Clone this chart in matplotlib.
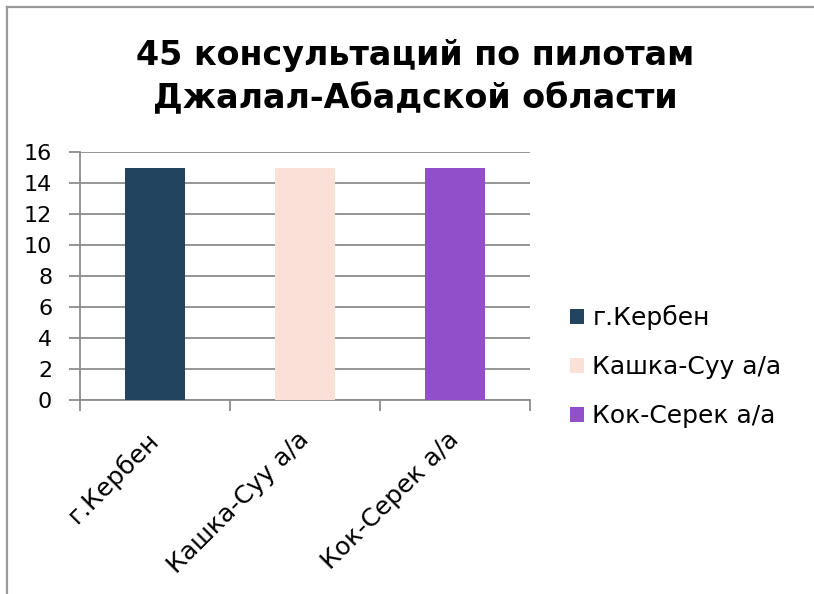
import matplotlib
matplotlib.use("Agg")
import matplotlib.pyplot as plt
from matplotlib.lines import Line2D
from matplotlib.patches import Patch

categories = ["г.Кербен", "Кашка-Суу а/а", "Кок-Серек а/а"]
values = [15, 15, 15]
colors = ["#23445F", "#FBE0D7", "#914FC8"]
yticks = [0, 2, 4, 6, 8, 10, 12, 14, 16]
title = "45 консультаций по пилотам\nДжалал-Абадской области"

plt.rcParams['font.family'] = ['DejaVu Sans']

fig = plt.figure(figsize=(8.14, 5.94), dpi=100)
fig.patch.set_facecolor("white")

# frame border (top and left)
fig.add_artist(Line2D([7/814, 1.0], [1-7/594, 1-7/594], transform=fig.transFigure,
                      color="#9a9a9a", lw=1.6))
fig.add_artist(Line2D([7/814, 7/814], [0, 1-7/594], transform=fig.transFigure,
                      color="#9a9a9a", lw=1.6))

ax = fig.add_axes([80/814, 1-400/594, 450/814, 248/594])
x = list(range(len(categories)))
ax.bar(x, values, width=0.4, color=colors, zorder=3)
ax.set_xlim(-0.5, len(categories) - 0.5)
ax.set_ylim(0, 16)
ax.set_yticks(yticks)
ax.set_yticklabels([str(v) for v in yticks], fontsize=16)
ax.yaxis.grid(True, color="#8c8c8c", lw=1.3, zorder=0)
ax.tick_params(axis="y", length=8, color="#8c8c8c", width=1.3, pad=12)

ax.set_xticks([i - 0.5 for i in range(len(categories) + 1)])
ax.set_xticklabels([])
ax.tick_params(axis="x", length=8, color="#8c8c8c", width=1.3)
ax.set_xticks(x, minor=True)
ax.set_xticklabels(categories, minor=True, rotation=45, ha="right", va="center",
                   rotation_mode="anchor", fontsize=18)
ax.tick_params(axis="x", which="minor", length=0, pad=26)

for s in ["top", "right"]:
    ax.spines[s].set_visible(False)
for s in ["left", "bottom"]:
    ax.spines[s].set_color("#8c8c8c")
    ax.spines[s].set_linewidth(1.3)

fig.text(415/814, 1-77/594, title, ha="center", va="center", fontsize=24,
         fontweight="bold", linespacing=1.38)

handles = [Patch(facecolor=c, edgecolor="none") for c in colors]
fig.legend(handles, categories, loc="upper left", bbox_to_anchor=(570/814, 1-305/594),
           frameon=False, fontsize=18, handlelength=0.55, handleheight=0.55,
           handletextpad=0.35, labelspacing=1.0, borderpad=0, borderaxespad=0)

fig.savefig("out.png", dpi=100)
